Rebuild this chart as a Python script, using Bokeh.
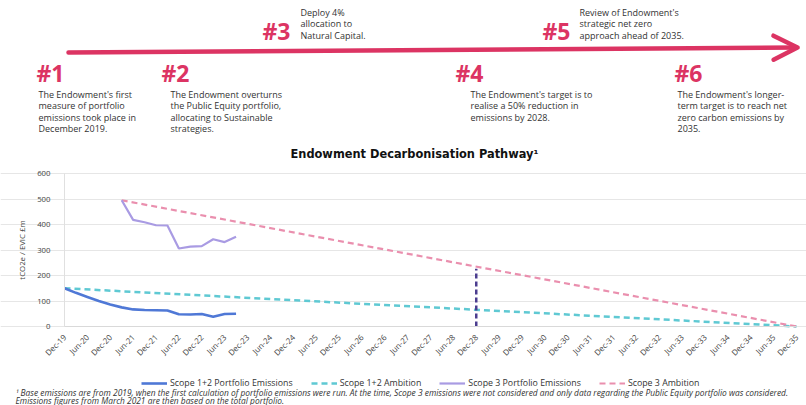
import numpy as np
from bokeh.plotting import figure
from bokeh.models import Range1d, FixedTicker, Legend, LegendItem, Arrow, OpenHead
from bokeh.core.properties import value
from bokeh.embed import file_html
from bokeh.resources import INLINE

# ---------------- data ----------------
milestone_tags = ["#1", "#2", "#3", "#4", "#5", "#6"]
milestone_texts = [
    "The Endowment's first\nmeasure of portfolio\nemissions took place in\nDecember 2019.",
    "The Endowment overturns\nthe Public Equity portfolio,\nallocating to Sustainable\nstrategies.",
    "Deploy 4%\nallocation to\nNatural Capital.",
    "The Endowment's target is to\nrealise a 50% reduction in\nemissions by 2028.",
    "Review of Endowment's\nstrategic net zero\napproach ahead of 2035.",
    "The Endowment's longer-\nterm target is to reach net\nzero carbon emissions by\n2035.",
]

scope12_dates = ["Dec-19", "Mar-20", "Jun-20", "Sep-20", "Dec-20", "Mar-21", "Jun-21", "Sep-21",
                 "Dec-21", "Mar-22", "Jun-22", "Sep-22", "Dec-22", "Mar-23", "Jun-23", "Sep-23"]
scope12_values = [150, 132, 116, 100, 86, 75, 67, 65, 64, 63, 48, 47, 49, 38, 49, 50]

scope3_dates = ["Mar-21", "Jun-21", "Sep-21", "Dec-21", "Mar-22", "Jun-22", "Sep-22",
                "Dec-22", "Mar-23", "Jun-23", "Sep-23"]
scope3_values = [495, 418, 409, 397, 396, 306, 313, 315, 342, 331, 352]

scope12_ambition_dates = ["Dec-19", "Dec-35"]
scope12_ambition_values = [150, 0]
scope3_ambition_dates = ["Mar-21", "Dec-35"]
scope3_ambition_values = [495, 0]

target_date = "Dec-28"

tick_labels = ["Dec-19"] + [f"{m}-{y}" for y in range(20, 36) for m in ("Jun", "Dec")]
y_ticks = [0, 100, 200, 300, 400, 500, 600]

legend_labels = ["Scope 1+2 Portfolio Emissions", "Scope 1+2 Ambition",
                 "Scope 3 Portfolio Emissions", "Scope 3 Ambition"]
chart_title = "Endowment Decarbonisation Pathway\u00b9"
y_label = "tCO2e / EVIC \u00a3m"
footnote_lines = [
    "\u00b9 Base emissions are from 2019, when the first calculation of portfolio emissions were run. "
    "At the time, Scope 3 emissions were not considered and only data regarding the Public Equity portfolio was considered.",
    "Emissions figures from March 2021 are then based on the total portfolio.",
]

# ---------------- helpers ----------------
QMAP = {"Mar": 0, "Jun": 1, "Sep": 2, "Dec": 3}


def qidx(label):
    m, y = label.split("-")
    return (int(y) - 19) * 4 + QMAP[m] - 3


FONT = "Open Sans"
PINK = "#dc3463"
W, H = 806, 405
FL, FR, FT, FB = 64, 796, 173, 326          # chart area edges in canvas px
X0, X1, Y0, Y1 = 0, 64, 0, 600
UX = (X1 - X0) / (FR - FL)
UY = (Y1 - Y0) / (FB - FT)


def dx(px):   # canvas px -> data x
    return X0 + (px - FL) * UX


def dy(py):   # canvas px -> data y
    return Y0 + (FB - py) * UY


p = figure(width=W, height=H,
           x_range=Range1d(X0 - FL * UX, X1 + (W - FR) * UX),
           y_range=Range1d(Y0 - (H - FB) * UY, Y1 + FT * UY),
           toolbar_location=None, output_backend="svg",
           min_border=0, outline_line_color=None)

p.xgrid.visible = False
p.ygrid.grid_line_color = "#e6e6e6"
p.ygrid.ticker = FixedTicker(ticks=y_ticks)
p.ygrid.bounds = (X0, X1)

yax = p.yaxis[0]
yax.fixed_location = X0
yax.bounds = (Y0, Y1)
yax.ticker = FixedTicker(ticks=y_ticks)
yax.axis_label = y_label
yax.axis_label_text_font = FONT
yax.axis_label_text_font_size = "7.8px"
yax.axis_label_text_font_style = "normal"
yax.axis_label_text_color = "#444444"
yax.axis_label_standoff = 7
yax.major_label_text_font = FONT
yax.major_label_text_font_size = "7.8px"
yax.major_label_text_color = "#444444"
yax.axis_line_color = "#e0e0e0"
yax.major_tick_line_color = None
yax.minor_tick_line_color = None
yax.major_label_standoff = 8

xt = list(range(X0, X1 + 1, 2))
xax = p.xaxis[0]
xax.fixed_location = Y0
xax.bounds = (X0, X1)
xax.ticker = FixedTicker(ticks=xt)
xax.major_label_overrides = {t: lab for t, lab in zip(xt, tick_labels)}
xax.major_label_orientation = np.pi / 4
xax.major_label_text_font = FONT
xax.major_label_text_font_size = "8px"
xax.major_label_text_color = "#444444"
xax.axis_line_color = "#d9d9d9"
xax.major_tick_line_color = None
xax.minor_tick_line_color = None
xax.major_label_standoff = 3

c_s12 = "#4f78d6"
c_s12a = "#5fc9d3"
c_s3 = "#a99be3"
c_s3a = "#ea8fae"

r_s12a = p.line([qidx(d) for d in scope12_ambition_dates], scope12_ambition_values,
                line_color=c_s12a, line_width=2.5, line_dash="6 4")
r_s3a = p.line([qidx(d) for d in scope3_ambition_dates], scope3_ambition_values,
               line_color=c_s3a, line_width=2.2, line_dash="6 4")

tx = qidx(target_date)
t_top = float(np.interp(tx, [qidx(d) for d in scope3_ambition_dates], scope3_ambition_values))
p.segment(x0=[tx], y0=[0], x1=[tx], y1=[t_top - 8], line_color="#4b3d8f",
          line_width=2.5, line_dash="5 3")

r_s12 = p.line([qidx(d) for d in scope12_dates], scope12_values,
               line_color=c_s12, line_width=2.6)
r_s3 = p.line([qidx(d) for d in scope3_dates], scope3_values,
              line_color=c_s3, line_width=2.2)

legend = Legend(items=[LegendItem(label=legend_labels[0], renderers=[r_s12]),
                       LegendItem(label=legend_labels[1], renderers=[r_s12a]),
                       LegendItem(label=legend_labels[2], renderers=[r_s3]),
                       LegendItem(label=legend_labels[3], renderers=[r_s3a])],
                orientation="horizontal", location=(141, 16),
                label_text_font=FONT, label_text_font_size="8.8px",
                label_text_color="#333333", glyph_width=26, glyph_height=10,
                label_standoff=3, spacing=18, padding=2, margin=0,
                border_line_color=None, background_fill_alpha=0)
p.add_layout(legend, "center")

# ---------------- title ----------------
p.text(x=[dx(414)], y=[dy(153)], text=[chart_title], text_font=value("DejaVu Sans"),
       text_font_size="11.4px", text_font_style="bold", text_color="#111111",
       text_align="center", text_baseline="middle")

# ---------------- infographic ----------------
arrow_start = (68, 52)
arrow_end = (797, 47)
p.add_layout(Arrow(end=OpenHead(size=24, line_color=PINK, line_width=4.5, line_cap="round",
                                line_join="round"),
                   x_start=dx(arrow_start[0]), y_start=dy(arrow_start[1]),
                   x_end=dx(arrow_end[0]), y_end=dy(arrow_end[1]),
                   line_color=PINK, line_width=4.5, line_cap="round"))

tag_pos = [(36, 72), (161, 72), (262, 30), (455, 72), (542, 30), (674, 72)]
text_pos = [(38, 94), (170, 94), (300, 12), (470, 94), (579, 12), (677, 94)]
LINE_H = 11.4

p.text(x=[dx(a) for a, b in tag_pos], y=[dy(b) for a, b in tag_pos], text=milestone_tags,
       text_font=value(FONT), text_font_size="23px", text_font_style="bold",
       text_color=PINK, text_align="left", text_baseline="middle")

lx, ly, lt = [], [], []
for (x0, y0), t in zip(text_pos, milestone_texts):
    for i, line in enumerate(t.split("\n")):
        lx.append(dx(x0))
        ly.append(dy(y0 + i * LINE_H))
        lt.append(line)
p.text(x=lx, y=ly, text=lt, text_font=value(FONT), text_font_size="9px",
       text_color="#333333", text_align="left", text_baseline="middle")

# ---------------- footnote ----------------
p.text(x=[dx(15)] * len(footnote_lines),
       y=[dy(391.5 + i * 8.6) for i in range(len(footnote_lines))],
       text=footnote_lines, text_font=value(FONT), text_font_size="8.4px",
       text_font_style="italic", text_color="#333333",
       text_align="left", text_baseline="middle")

open("out.html", "w").write(file_html(p, INLINE))
